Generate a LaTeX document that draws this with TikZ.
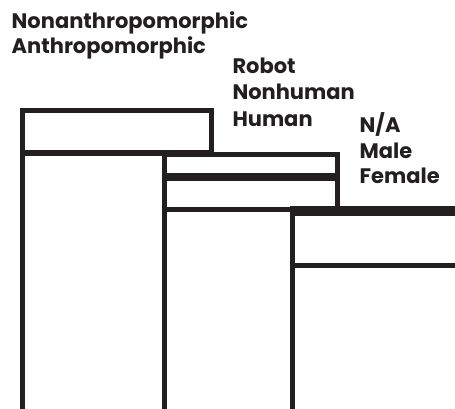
\documentclass[tikz,border=0pt]{standalone}
\usepackage{fontspec}
\newfontfamily\lblfont{Poppins}
\definecolor{ink}{HTML}{231F20}
\begin{document}
\begin{tikzpicture}[x=1pt,y=-1pt,
  lbl/.style={anchor=base west,inner sep=0pt,text=ink,font=\lblfont\bfseries\fontsize{21}{22}\selectfont},
  rule/.style={draw=ink,line width=5pt,line join=miter,line cap=rect}]
\useasboundingbox (0,0) rectangle (455,409);
\clip (0,0) rectangle (455,409);
% labels
\node[lbl] (t1) at (11.5,28.5) {Nonanthropomorphic};
\node[lbl] (t2) at (11.5,54) {Anthropomorphic};
\node[lbl] (r1) at (232.3,73.3) {Robot};
\node[lbl] (r2) at (232.3,100) {Nonhuman};
\node[lbl] (r3) at (232.3,126.5) {Human};
\node[lbl] (g1) at (359.5,132.3) {N/A};
\node[lbl] (g2) at (359.5,158.3) {Male};
\node[lbl] (g3) at (359.5,183.5) {Female};
% level 1
\draw[rule] (22.8,420) -- (22.8,110.8) -- (211.8,110.8) -- (211.8,153);
\draw[rule] (22.8,153) -- (211.8,153);
% level 2
\draw[rule] (164.8,420) -- (164.8,154.8) -- (337.5,154.8) -- (337.5,209.2) -- (164.8,209.2);
\draw[rule,line width=7.7pt,line cap=butt] (164.8,177.2) -- (337.5,177.2);
% level 3
\draw[rule,line width=10pt,line cap=butt] (290,211) -- (460,211);
\draw[rule] (292.5,420) -- (292.5,211);
\draw[rule,line width=5.6pt,line cap=butt] (292.5,265.5) -- (460,265.5);
\end{tikzpicture}
\end{document}
